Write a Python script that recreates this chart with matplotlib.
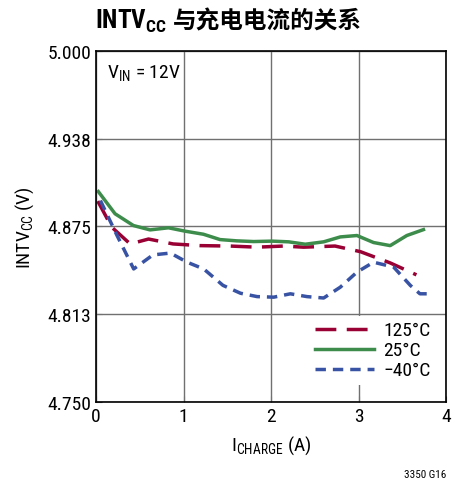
import matplotlib
matplotlib.use("Agg")
import matplotlib.pyplot as plt

plt.rcParams['font.family'] = ['Roboto Condensed', 'Noto Sans CJK SC', 'DejaVu Sans']
plt.rcParams['mathtext.fontset'] = 'custom'
plt.rcParams['mathtext.rm'] = 'Roboto Condensed'
plt.rcParams['mathtext.bf'] = 'Roboto Condensed:bold'

# data
x_125 = [0.02, 0.18, 0.39, 0.60, 0.88, 1.19, 1.53, 1.84, 2.14, 2.37, 2.73, 3.02, 3.36, 3.66]
y_125 = [4.893, 4.8744, 4.8625, 4.866, 4.8625, 4.8613, 4.861, 4.8602, 4.861, 4.8602, 4.861, 4.857, 4.849, 4.8405]

x_25 = [0.026, 0.217, 0.427, 0.617, 0.827, 1.017, 1.227, 1.417, 1.607, 1.80, 2.01, 2.20, 2.39,
        2.60, 2.79, 2.98, 3.17, 3.36, 3.55, 3.74]
y_25 = [4.8998, 4.884, 4.8756, 4.8725, 4.874, 4.8716, 4.8694, 4.8656, 4.8647, 4.8642, 4.8645,
        4.864, 4.8623, 4.864, 4.8675, 4.8685, 4.8635, 4.8613, 4.8685, 4.8727]

x_m40 = [0.05, 0.24, 0.43, 0.65, 0.85, 1.04, 1.23, 1.45, 1.65, 1.84, 2.03, 2.22, 2.41, 2.60,
         2.79, 2.98, 3.17, 3.40, 3.59, 3.70, 3.80]
y_m40 = [4.8934, 4.8685, 4.8447, 4.8547, 4.856, 4.8495, 4.8447, 4.833, 4.8274, 4.825, 4.8246,
         4.827, 4.825, 4.824, 4.8317, 4.8424, 4.8495, 4.846, 4.833, 4.827, 4.827]

yticks = [4.750, 4.8125, 4.875, 4.9375, 5.000]
ytick_labels = ['4.750', '4.813', '4.875', '4.938', '5.000']
xticks = [0, 1, 2, 3, 4]

fig = plt.figure(figsize=(4.53, 4.89), dpi=100)
ax = fig.add_axes([0.212, 0.176, 0.773, 0.718])

ax.plot(x_125, y_125, color='#990033', lw=2.5, dashes=(6, 3), label='125°C')
ax.plot(x_25, y_25, color='#3d8c4c', lw=2.5, label='25°C')
ax.plot(x_m40, y_m40, color='#3953a4', lw=2.5, dashes=(3, 2), label='\u221240°C')

ax.set_xlim(0, 4)
ax.set_ylim(4.75, 5.0)
ax.set_xticks(xticks)
ax.set_yticks(yticks)
ax.set_yticklabels(ytick_labels)
ax.grid(True, color='#707070', lw=1)
ax.tick_params(labelsize=14, direction='in', length=4, color='#707070')
for s in ax.spines.values():
    s.set_color('black')
    s.set_linewidth(1.2)

ax.set_xlabel('I$_{\\mathrm{CHARGE}}$ (A)', fontsize=14, labelpad=6)
ax.set_ylabel('INTV$_{\\mathrm{CC}}$ (V)', fontsize=14, labelpad=8)

ax.text(0.03, 0.965, 'V$_{\\mathrm{IN}}$ = 12V', transform=ax.transAxes, fontsize=14,
        va='top', ha='left', bbox=dict(facecolor='white', edgecolor='none', pad=1))

leg = ax.legend(loc='lower right', fontsize=14, frameon=True, fancybox=False,
                edgecolor='none', facecolor='white', framealpha=1, handlelength=3.0,
                handletextpad=0.5, labelspacing=0.1, borderpad=0.3,
                bbox_to_anchor=(1.0, 0.02))

# title: mathtext part and Chinese part drawn separately so CJK glyphs fall back properly
t1 = fig.text(0.21, 0.942, 'INTV$_{\\mathbf{CC}}$', fontsize=18, fontweight='bold',
              ha='left', va='baseline')
fig.canvas.draw()
bb = t1.get_window_extent()
fig.text(bb.x1 + 6, t1.get_transform().transform((0.21, 0.942))[1], '与充电电流的关系',
         fontsize=17, fontweight='bold', ha='left', va='baseline', transform=None,
         family=['Noto Sans CJK SC', 'DejaVu Sans'])
fig.text(0.985, 0.018, '3350 G16', fontsize=8, ha='right', va='bottom')

fig.savefig('out.png', dpi=100)
